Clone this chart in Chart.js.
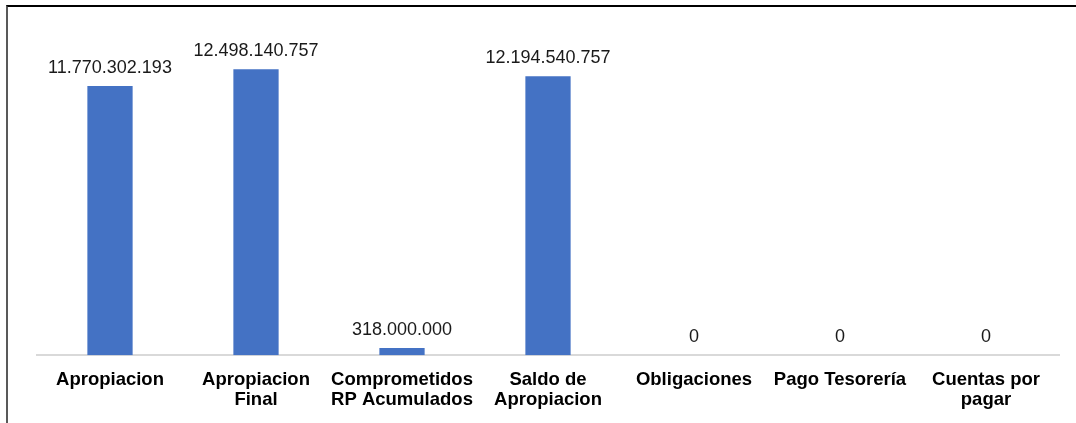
<!DOCTYPE html>
<html lang="es">
<head>
<meta charset="utf-8">
<title>Ejecución presupuestal</title>
<script src="https://cdn.jsdelivr.net/npm/chart.js@4/dist/chart.umd.min.js"></script>
<style>
  html, body { margin: 0; padding: 0; background: #fff; overflow: hidden; }
  #marco {
    position: absolute; left: 6px; top: 5px; width: 1200px; height: 500px;
    border-left: 2px solid #595959; border-top: 2px solid #000;
  }
  #wrap { position: absolute; left: 0; top: 0; width: 1076px; height: 423px; }
</style>
</head>
<body>
<div id="marco"></div>
<div id="wrap"><canvas id="grafico"></canvas></div>
<script>
// Categorías (etiquetas en varias líneas) y valores
const categorias = [
  ["Apropiacion"],
  ["Apropiacion", "Final"],
  ["Comprometidos", "RP Acumulados"],
  ["Saldo de", "Apropiacion"],
  ["Obligaciones"],
  ["Pago Tesorería"],
  ["Cuentas por", "pagar"]
];
const valores = [11770302193, 12498140757, 318000000, 12194540757, 0, 0, 0];

// Formato con punto como separador de miles
function formatoMiles(n) {
  return String(Math.round(n)).replace(/\B(?=(\d{3})+(?!\d))/g, ".");
}

// Escribe el valor encima de cada barra
const etiquetasValor = {
  id: "etiquetasValor",
  afterDatasetsDraw(chart) {
    const ctx = chart.ctx;
    const meta = chart.getDatasetMeta(0);
    ctx.save();
    ctx.font = "18px 'Liberation Sans', Arial, sans-serif";
    ctx.fillStyle = "#1a1a1a";
    ctx.textAlign = "center";
    ctx.textBaseline = "middle";
    meta.data.forEach((bar, i) => {
      ctx.fillText(formatoMiles(valores[i]), bar.x, bar.y - 18);
    });
    ctx.restore();
  }
};

const ctx = document.getElementById("grafico");
new Chart(ctx, {
  type: "bar",
  data: {
    labels: categorias,
    datasets: [{
      data: valores,
      backgroundColor: "#4472C4",
      borderWidth: 0,
      categoryPercentage: 1,
      barPercentage: 0.31
    }]
  },
  options: {
    responsive: true,
    maintainAspectRatio: false,
    animation: false,
    layout: { padding: { left: 37, right: 17, top: 35, bottom: 7 } },
    plugins: {
      legend: { display: false },
      tooltip: { enabled: false }
    },
    scales: {
      x: {
        grid: { display: false },
        border: { display: true, color: "#d9d9d9", width: 2 },
        ticks: {
          color: "#000",
          padding: 6,
          maxRotation: 0,
          autoSkip: false,
          font: { family: "'Liberation Sans', Arial, sans-serif", size: 18.5, weight: "bold", lineHeight: 1.1 }
        }
      },
      y: {
        display: false,
        min: 0,
        max: 14000000000
      }
    }
  },
  plugins: [etiquetasValor]
});
</script>
</body>
</html>
